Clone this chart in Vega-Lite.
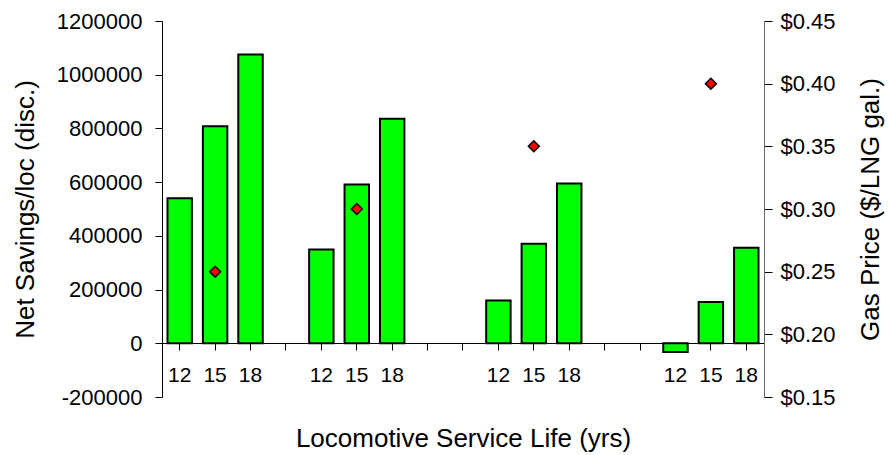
{
  "$schema": "https://vega.github.io/schema/vega-lite/v6.json",
  "width": 602,
  "height": 376,
  "autosize": {"type": "none"},
  "padding": {"left": 162, "top": 21, "right": 124, "bottom": 58},
  "background": "white",
  "config": {
    "view": {"stroke": null},
    "font": "Liberation Sans",
    "axis": {
      "labelFont": "Liberation Sans",
      "titleFont": "Liberation Sans",
      "labelColor": "black",
      "titleColor": "black",
      "domainColor": "black",
      "tickColor": "black",
      "grid": false,
      "titleFontWeight": "normal",
      "labelFontSize": 22,
      "titleFontSize": 26
    }
  },
  "data": {
    "values": [
      {"slot": "1:12", "savings": 540000, "gas": null},
      {"slot": "1:15", "savings": 808000, "gas": 0.25},
      {"slot": "1:18", "savings": 1075000, "gas": null},
      {"slot": "2:12", "savings": 349000, "gas": null},
      {"slot": "2:15", "savings": 591000, "gas": 0.30},
      {"slot": "2:18", "savings": 836000, "gas": null},
      {"slot": "3:12", "savings": 159000, "gas": null},
      {"slot": "3:15", "savings": 371000, "gas": 0.35},
      {"slot": "3:18", "savings": 595000, "gas": null},
      {"slot": "4:12", "savings": -32000, "gas": null},
      {"slot": "4:15", "savings": 154000, "gas": 0.40},
      {"slot": "4:18", "savings": 356000, "gas": null}
    ]
  },
  "layer": [
    {
      "mark": {"type": "bar", "fill": "#00ff00", "stroke": "black", "strokeWidth": 2},
      "encoding": {
        "x": {
          "field": "slot",
          "type": "ordinal",
          "sort": null,
          "scale": {
            "domain": ["1:12", "1:15", "1:18", "g1", "2:12", "2:15", "2:18", "g2", "g3", "3:12", "3:15", "3:18", "g4", "g5", "4:12", "4:15", "4:18"],
            "paddingInner": 0.31,
            "paddingOuter": 0.155
          },
          "axis": {
            "title": "Locomotive Service Life (yrs)",
            "offset": -54,
            "labelAngle": 0,
            "labelOverlap": false,
            "labelFontSize": 21,
            "labelExpr": "indexof(datum.value, ':') > 0 ? split(datum.value, ':')[1] : ''",
            "tickSize": 7,
            "labelPadding": 14,
            "titlePadding": 40
          }
        },
        "y": {
          "field": "savings",
          "type": "quantitative",
          "scale": {"domain": [-200000, 1200000], "nice": false},
          "axis": {
            "title": "Net Savings/loc (disc.)",
            "values": [-200000, 0, 200000, 400000, 600000, 800000, 1000000, 1200000],
            "labelExpr": "'' + datum.value",
            "tickSize": 7,
            "labelPadding": 13,
            "titlePadding": 18
          }
        }
      }
    },
    {
      "transform": [{"filter": "datum.gas != null"}],
      "mark": {"type": "point", "shape": "diamond", "filled": true, "fill": "red", "stroke": "black", "strokeWidth": 1.5, "size": 120, "opacity": 1},
      "encoding": {
        "x": {"field": "slot", "type": "ordinal", "sort": null},
        "y": {
          "field": "gas",
          "type": "quantitative",
          "scale": {"domain": [0.15, 0.45], "nice": false, "zero": false},
          "axis": {
            "title": "Gas Price ($/LNG gal.)",
            "titleAngle": 270,
            "titleBaseline": "top",
            "values": [0.15, 0.2, 0.25, 0.3, 0.35, 0.4, 0.45],
            "format": "$.2f",
            "tickSize": 8,
            "labelPadding": 8,
            "titlePadding": 22,
            "domainColor": "#666666"
          }
        }
      }
    }
  ],
  "resolve": {"scale": {"y": "independent"}}
}
